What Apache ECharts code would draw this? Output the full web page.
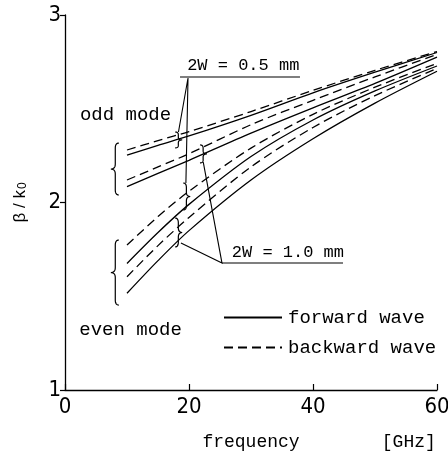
<!DOCTYPE html>
<html>
<head>
<meta charset="utf-8">
<script src="https://cdn.jsdelivr.net/npm/echarts@6/dist/echarts.min.js"></script>
<style>
  html, body { margin: 0; padding: 0; background: #fff; }
  #chart { width: 448px; height: 453px; }
</style>
</head>
<body>
<div id="chart"></div>
<script>
// frequency points [GHz]
const freq = [10, 15, 20, 30, 40, 50, 60];

// odd mode, 2W = 0.5 mm
const odd05Fwd = [2.253, 2.305, 2.355, 2.465, 2.585, 2.695, 2.80];
const odd05Bwd = [2.28, 2.33, 2.378, 2.485, 2.598, 2.705, 2.805];
// odd mode, 2W = 1.0 mm
const odd10Fwd = [2.085, 2.155, 2.225, 2.37, 2.505, 2.635, 2.775];
const odd10Bwd = [2.12, 2.19, 2.26, 2.415, 2.545, 2.67, 2.79];
// even mode, 2W = 0.5 mm
const even05Fwd = [1.675, 1.84, 1.99, 2.245, 2.44, 2.595, 2.728];
const even05Bwd = [1.773, 1.925, 2.06, 2.29, 2.47, 2.615, 2.742];
// even mode, 2W = 1.0 mm
const even10Fwd = [1.516, 1.69, 1.85, 2.12, 2.34, 2.53, 2.70];
const even10Bwd = [1.604, 1.77, 1.92, 2.19, 2.40, 2.57, 2.715];

const xTicks = [0, 20, 40, 60];
const yTicks = [1, 2, 3];

const mono = "'Liberation Mono', 'DejaVu Sans Mono', monospace";
const narrow = "'Liberation Sans Narrow', 'DejaVu Sans Condensed', 'Liberation Sans', sans-serif";

function pairs(ys) {
  return freq.map(function (f, i) { return [f, ys[i]]; });
}

function curve(name, ys, dashed) {
  return {
    name: name,
    type: 'line',
    data: pairs(ys),
    smooth: 0.3,
    symbol: 'none',
    showSymbol: false,
    silent: true,
    lineStyle: { color: '#000', width: 1.3, type: dashed ? [9, 5] : 'solid' },
    itemStyle: { color: '#000' }
  };
}

const chart = echarts.init(document.getElementById('chart'));

const option = {
  animation: false,
  backgroundColor: '#fff',
  grid: { left: 65, right: 11, top: 15, bottom: 63, containLabel: false, outerBoundsMode: 'none' },
  legend: {
    data: ['forward wave', 'backward wave'],
    orient: 'vertical',
    left: 218,
    top: 303,
    itemWidth: 58,
    itemHeight: 10,
    itemGap: 11,
    itemStyle: { opacity: 0 },
    textStyle: { fontFamily: mono, fontSize: 19, color: '#000', padding: [0, 0, 0, 1] }
  },
  xAxis: {
    type: 'value',
    min: xTicks[0],
    max: xTicks[xTicks.length - 1],
    interval: xTicks[1] - xTicks[0],
    name: 'frequency',
    nameLocation: 'middle',
    nameGap: 43,
    nameTextStyle: { fontFamily: mono, fontSize: 18, color: '#000' },
    axisLine: { lineStyle: { color: '#000', width: 1.3 } },
    axisTick: { inside: true, length: 6, lineStyle: { color: '#000', width: 1.2 } },
    axisLabel: { fontFamily: narrow, fontSize: 22, color: '#000', margin: 6 },
    splitLine: { show: false }
  },
  yAxis: {
    type: 'value',
    min: yTicks[0],
    max: yTicks[yTicks.length - 1],
    interval: yTicks[1] - yTicks[0],
    name: 'β / k{s|0}',
    nameLocation: 'middle',
    nameGap: 36,
    nameRotate: 90,
    nameTextStyle: {
      fontFamily: "'Liberation Sans', sans-serif", fontSize: 17, color: '#000',
      rich: { s: { fontFamily: "'Liberation Sans', sans-serif", fontSize: 12, color: '#000', verticalAlign: 'bottom', padding: [6, 0, 0, 1] } }
    },
    axisLine: { show: true, lineStyle: { color: '#000', width: 1.3 } },
    axisTick: { show: true, length: 5, lineStyle: { color: '#000', width: 1.2 } },
    axisLabel: { fontFamily: narrow, fontSize: 22, color: '#000', margin: 4 },
    splitLine: { show: false }
  },
  series: [
    curve('forward wave', odd05Fwd, false),
    curve('backward wave', odd05Bwd, true),
    curve('forward wave', odd10Fwd, false),
    curve('backward wave', odd10Bwd, true),
    curve('forward wave', even05Fwd, false),
    curve('backward wave', even05Bwd, true),
    curve('forward wave', even10Fwd, false),
    curve('backward wave', even10Bwd, true)
  ]
};
chart.setOption(option);

// annotations, placed in data units and converted through the grid
function px(f, b) { return chart.convertToPixel({ gridIndex: 0 }, [f, b]); }

function quad(out, p0, c, p1) {
  for (let t = 0.125; t <= 1.0001; t += 0.125) {
    const u = 1 - t;
    out.push([u * u * p0[0] + 2 * u * t * c[0] + t * t * p1[0],
              u * u * p0[1] + 2 * u * t * c[1] + t * t * p1[1]]);
  }
}

// dir -1: "{" (tip left), dir 1: "}" (tip right)
function brace(f, b1, b2, dir, w) {
  const p = px(f, b1);
  const x = p[0], y1 = p[1], y2 = px(f, b2)[1];
  const ym = (y1 + y2) / 2;
  const e = x - dir * w;
  const s = x - dir * w * 0.55;
  const q = Math.min(5, (y2 - y1) / 6);
  const pts = [[e, y1]];
  quad(pts, [e, y1], [s, y1], [s, y1 + q]);
  pts.push([s, ym - q]);
  quad(pts, [s, ym - q], [s, ym], [x, ym]);
  quad(pts, [x, ym], [s, ym], [s, ym + q]);
  pts.push([s, y2 - q]);
  quad(pts, [s, y2 - q], [s, y2], [e, y2]);
  return {
    type: 'polyline',
    silent: true,
    shape: { points: pts },
    style: { fill: 'none', stroke: '#000', lineWidth: 1.2 }
  };
}

function leader(pts) {
  return {
    type: 'polyline',
    silent: true,
    shape: { points: pts.map(function (d) { return px(d[0], d[1]); }) },
    style: { fill: 'none', stroke: '#000', lineWidth: 1.1 }
  };
}

function label(text, f, b, size) {
  const p = px(f, b);
  return {
    type: 'text',
    silent: true,
    x: p[0],
    y: p[1],
    style: {
      text: text, font: size + 'px ' + mono, fill: '#000',
      align: 'left', verticalAlign: 'middle', textAlign: 'left', textVerticalAlign: 'middle'
    }
  };
}

chart.setOption({
  graphic: [
    label('odd mode', 2.4, 2.467, 19),
    label('even mode', 2.3, 1.32, 19),
    label('2W = 0.5 mm', 19.7, 2.73, 17),
    label('2W = 1.0 mm', 26.9, 1.736, 17),
    label('[GHz]', 51.1, 0.722, 18),
    brace(7.4, 2.317, 2.04, -1, 8),
    brace(7.4, 1.80, 1.453, -1, 8),
    brace(18.9, 2.376, 2.291, 1, 7),
    brace(22.9, 2.307, 2.211, 1, 7),
    brace(20.2, 2.104, 1.96, 1, 7),
    brace(18.9, 1.917, 1.763, 1, 7),
    leader([[18.55, 2.669], [37.9, 2.669]]),
    leader([[18.3, 2.376], [19.84, 2.664], [19.5, 2.104]]),
    leader([[25.32, 1.677], [44.84, 1.677]]),
    leader([[18.7, 1.784], [25.32, 1.677], [22.3, 2.215]])
  ]
});
</script>
</body>
</html>
